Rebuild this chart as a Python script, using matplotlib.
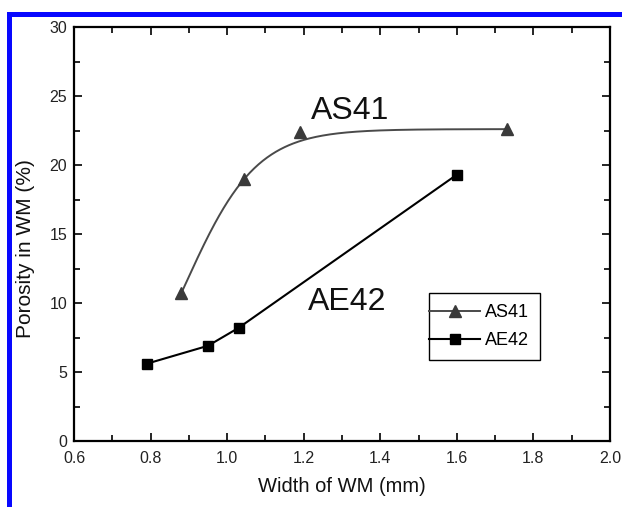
import numpy as np
import matplotlib
matplotlib.use("Agg")
import matplotlib.pyplot as plt
from matplotlib.lines import Line2D
from matplotlib.legend_handler import HandlerLine2D
from matplotlib.patches import Rectangle
from matplotlib.ticker import MultipleLocator

plt.rcParams["font.family"] = ["Liberation Sans", "DejaVu Sans"]

# values
as41_x = [0.88, 1.045, 1.19, 1.73]
as41_y = [10.7, 19.0, 22.4, 22.6]
ae42_x = [0.79, 0.95, 1.03, 1.60]
ae42_y = [5.6, 6.9, 8.2, 19.3]
xticks = [0.6, 0.8, 1.0, 1.2, 1.4, 1.6, 1.8, 2.0]
yticks = [0, 5, 10, 15, 20, 25, 30]

# sigmoid trend for AS41: plateau at the last point, shape set by the first two
top = as41_y[-1]
z = np.log(top / np.array(as41_y[:2]) - 1)          # z = -(x - x0) / dx
slope, icpt = np.polyfit(as41_x[:2], z, 1)
dx = -1 / slope
x0 = icpt * dx
fit_x = np.linspace(min(as41_x), max(as41_x), 300)
fit_y = top / (1 + np.exp(-(fit_x - x0) / dx))

fig = plt.figure(figsize=(6.22, 5.07), dpi=100)
ax = fig.add_axes([74 / 622, 66 / 507, 536 / 622, 414 / 507])

gray = "#4a4a4a"
ax.plot(fit_x, fit_y, color=gray, lw=1.4)
ax.plot(as41_x, as41_y, ls="none", marker="^", ms=8, color="#3a3a3a")
ax.plot(ae42_x, ae42_y, color="black", lw=1.5, marker="s", ms=6.8)

ax.text(1.32, 23.3, "AS41", fontsize=23, ha="center", va="baseline", color="#111111")
ax.text(1.313, 9.5, "AE42", fontsize=23, ha="center", va="baseline", color="#111111")

ax.set_xlim(0.6, 2.0)
ax.set_ylim(0, 30)
ax.set_xticks(xticks)
ax.set_xticklabels(["%.1f" % v for v in xticks])
ax.set_yticks(yticks)
ax.xaxis.set_minor_locator(MultipleLocator(0.1))
ax.yaxis.set_minor_locator(MultipleLocator(2.5))
ax.tick_params(which="both", direction="in", top=True, right=True,
               width=1.2, labelsize=11.5, labelcolor="#222222")
ax.tick_params(which="major", length=6)
ax.tick_params(which="minor", length=4)
ax.tick_params(axis="x", pad=7)
ax.tick_params(axis="y", pad=5)
for sp in ax.spines.values():
    sp.set_linewidth(1.6)

ax.set_xlabel("Width of WM (mm)", fontsize=14.5, color="#111111")
ax.set_ylabel("Porosity in WM (%)", fontsize=15, color="#111111")
ax.xaxis.set_label_coords(0.5, -0.086)
ax.yaxis.set_label_coords(-0.073, 0.464)

handles = [
    Line2D([], [], color=gray, lw=1.4, marker="^", ms=8, markerfacecolor="#3a3a3a",
           markeredgecolor="#3a3a3a"),
    Line2D([], [], color="black", lw=1.5, marker="s", ms=6.8),
]
ax.legend(handles, ["AS41", "AE42"], loc="upper left",
          bbox_to_anchor=(0.662, 0.357), borderaxespad=0,
          fontsize=13, fancybox=False, edgecolor="black", framealpha=1,
          borderpad=0.6, handlelength=2.25, handletextpad=0.28, labelspacing=0.6,
          handler_map={Line2D: HandlerLine2D(xpad=-0.6)})
ax.get_legend().get_frame().set_linewidth(1.0)

# blue frame edges from the screenshot
fig.add_artist(Rectangle((7 / 622, (507 - 16.5) / 507), 1, 4.8 / 507,
                         transform=fig.transFigure, color="#0808ff", lw=0))
fig.add_artist(Rectangle((7 / 622, 0), 5 / 622, (507 - 11.7) / 507,
                         transform=fig.transFigure, color="#0808ff", lw=0))

fig.savefig("out.png", dpi=100)
